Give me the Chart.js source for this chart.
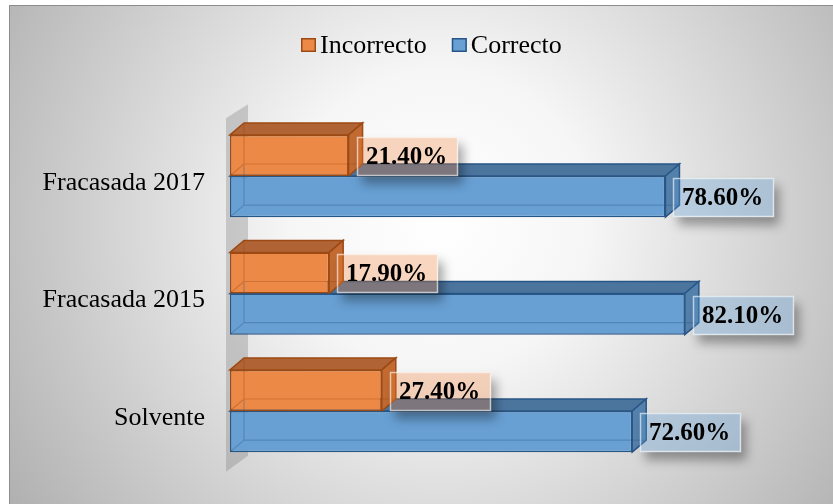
<!DOCTYPE html>
<html>
<head>
<meta charset="utf-8">
<script src="https://cdn.jsdelivr.net/npm/chart.js@4/dist/chart.umd.min.js"></script>
<style>
  html, body { margin: 0; padding: 0; background: #ffffff; }
  canvas { display: block; }
</style>
</head>
<body>
<canvas id="chart" width="833" height="504"></canvas>
<script>
// Categories (top to bottom) and the two series
const categories = ['Fracasada 2017', 'Fracasada 2015', 'Solvente'];
const seriesNames = ['Incorrecto', 'Correcto'];
const incorrecto = [21.4, 17.9, 27.4];
const correcto = [78.6, 82.1, 72.6];
const axisRange = [0, 100];

const FONT = "'Liberation Serif', 'Times New Roman', serif";
const DEPTH_X = 14;   // 3D depth offset of the boxes
const DEPTH_Y = -12;

const palette = [
  { front: 'rgb(237,137,70)', top: 'rgb(176,100,54)', side: 'rgb(194,106,50)',
    edge: 'rgb(156,74,20)', inner: 'rgba(150,70,20,0.35)', label: 'rgba(237,125,49,0.30)' },
  { front: 'rgb(104,160,212)', top: 'rgb(76,117,158)', side: 'rgb(84,128,172)',
    edge: 'rgb(40,86,134)', inner: 'rgba(40,86,134,0.35)', label: 'rgba(91,155,213,0.32)' }
];

// Frame rectangle of the chart (extends past the canvas on the right and bottom)
const frame = { x: 9.5, y: 5.5, w: 844, h: 520 };

const backgroundPlugin = {
  id: 'frameBackground',
  beforeDraw(chart) {
    const ctx = chart.ctx;
    ctx.save();
    ctx.fillStyle = '#ffffff';
    ctx.fillRect(0, 0, chart.width, chart.height);
    const g = ctx.createRadialGradient(440, 220, 0, 440, 220, 600);
    g.addColorStop(0, '#ffffff');
    g.addColorStop(0.25, '#f6f6f6');
    g.addColorStop(1, '#a0a0a0');
    ctx.fillStyle = g;
    ctx.fillRect(frame.x, frame.y, frame.w, frame.h);
    ctx.strokeStyle = '#8c8c8c';
    ctx.lineWidth = 1;
    ctx.strokeRect(frame.x, frame.y, frame.w, frame.h);
    ctx.restore();
  }
};

function poly(ctx, pts, fill, stroke, lw) {
  ctx.beginPath();
  ctx.moveTo(pts[0][0], pts[0][1]);
  for (let i = 1; i < pts.length; i++) ctx.lineTo(pts[i][0], pts[i][1]);
  ctx.closePath();
  if (fill) { ctx.fillStyle = fill; ctx.fill(); }
  if (stroke) { ctx.strokeStyle = stroke; ctx.lineWidth = lw || 1; ctx.stroke(); }
}

// Back wall, top faces and side faces of the 3D bars
const boxesPlugin = {
  id: 'boxes3d',
  beforeDatasetsDraw(chart) {
    const ctx = chart.ctx;
    const area = chart.chartArea;
    const x0 = chart.scales.x.getPixelForValue(0);
    ctx.save();
    poly(ctx, [[x0 - 4, area.top + 1], [x0 + 18, area.top - 13],
               [x0 + 18, area.bottom - 14], [x0 - 4, area.bottom + 2]],
         'rgba(120,120,120,0.32)');
    const order = [1, 0];
    for (const di of order) {
      const meta = chart.getDatasetMeta(di);
      const col = palette[di];
      meta.data.forEach(el => {
        const p = el.getProps(['x', 'y', 'base', 'height'], true);
        const top = p.y - p.height / 2, bot = p.y + p.height / 2;
        const l = p.base, r = p.x;
        // top face
        poly(ctx, [[l, top], [l + DEPTH_X, top + DEPTH_Y], [r + DEPTH_X, top + DEPTH_Y], [r, top]],
             col.top, col.edge, 1.5);
        // right side face
        poly(ctx, [[r, top], [r + DEPTH_X, top + DEPTH_Y], [r + DEPTH_X, bot + DEPTH_Y], [r, bot]],
             col.side, col.edge, 1.5);
      });
    }
    ctx.restore();
  },
  afterDatasetsDraw(chart) {
    const ctx = chart.ctx;
    ctx.save();
    // hidden back edges seen through the translucent front faces
    chart.data.datasets.forEach((ds, di) => {
      const col = palette[di];
      chart.getDatasetMeta(di).data.forEach(el => {
        const p = el.getProps(['x', 'y', 'base', 'height'], true);
        const top = p.y - p.height / 2, bot = p.y + p.height / 2;
        const l = p.base, r = p.x;
        ctx.strokeStyle = col.inner;
        ctx.lineWidth = 1.2;
        ctx.beginPath();
        ctx.moveTo(l + DEPTH_X, top + DEPTH_Y + 1);
        ctx.lineTo(l + DEPTH_X, bot + DEPTH_Y);
        ctx.lineTo(r + DEPTH_X - 1, bot + DEPTH_Y);
        ctx.moveTo(l + 1, bot - 1);
        ctx.lineTo(l + DEPTH_X, bot + DEPTH_Y);
        ctx.stroke();
      });
    });

    // value labels
    chart.data.datasets.forEach((ds, di) => {
      const col = palette[di];
      chart.getDatasetMeta(di).data.forEach((el, i) => {
        const p = el.getProps(['x', 'y', 'base', 'height'], true);
        const text = ds.data[i].toFixed(2) + '%';
        ctx.font = 'bold 25px ' + FONT;
        const tw = ctx.measureText(text).width;
        const bw = Math.round(tw + 20), bh = 39;
        const bx = Math.round(p.x + 8), by = Math.round(p.y - bh / 2 + 1);
        // soft drop shadow outside the box
        ctx.save();
        ctx.beginPath();
        ctx.rect(0, 0, chart.width, chart.height);
        ctx.rect(bx, by, bw, bh);
        ctx.clip('evenodd');
        ctx.shadowColor = 'rgba(0,0,0,0.35)';
        ctx.shadowBlur = 10;
        ctx.shadowOffsetX = 5 + 3000;
        ctx.shadowOffsetY = 8;
        ctx.fillStyle = '#000';
        ctx.fillRect(bx - 3000, by, bw, bh);
        ctx.restore();
        // translucent box
        ctx.fillStyle = col.label;
        ctx.fillRect(bx, by, bw, bh);
        ctx.strokeStyle = 'rgba(255,255,255,0.6)';
        ctx.lineWidth = 1.5;
        ctx.strokeRect(bx + 0.5, by + 0.5, bw - 1, bh - 1);
        ctx.fillStyle = '#000000';
        ctx.textBaseline = 'middle';
        ctx.textAlign = 'left';
        ctx.fillText(text, bx + 9, by + bh / 2 + 1);
      });
    });
    ctx.restore();
  }
};

// Legend drawn centred on the frame: small square swatch + label
const legendPlugin = {
  id: 'serifLegend',
  afterDraw(chart) {
    const ctx = chart.ctx;
    ctx.save();
    ctx.font = '26px ' + FONT;
    const sw = 15, gapText = 4, gapItem = 25;
    const items = chart.data.datasets.map((ds, di) => ({
      text: ds.label, col: palette[di], w: sw + gapText + ctx.measureText(ds.label).width
    }));
    const total = items.reduce((s, it) => s + it.w, 0) + gapItem * (items.length - 1);
    let x = Math.round(frame.x + frame.w / 2 - total / 2);
    const cy = 45;
    items.forEach(it => {
      ctx.fillStyle = it.col.front;
      ctx.fillRect(x, cy - 7, sw, sw - 1);
      ctx.strokeStyle = it.col.edge;
      ctx.lineWidth = 1.5;
      ctx.strokeRect(x + 0.75, cy - 6.25, sw - 1.5, sw - 2.5);
      ctx.fillStyle = '#000000';
      ctx.textBaseline = 'middle';
      ctx.textAlign = 'left';
      ctx.fillText(it.text, x + sw + gapText, cy + 1);
      x += it.w + gapItem;
    });
    ctx.restore();
  }
};

new Chart(document.getElementById('chart'), {
  type: 'bar',
  data: {
    labels: categories,
    datasets: [
      { label: seriesNames[0], data: incorrecto, backgroundColor: palette[0].front,
        borderColor: palette[0].edge, borderWidth: 1.5, borderSkipped: false,
        categoryPercentage: 0.70, barPercentage: 1.0 },
      { label: seriesNames[1], data: correcto, backgroundColor: palette[1].front,
        borderColor: palette[1].edge, borderWidth: 1.5, borderSkipped: false,
        categoryPercentage: 0.70, barPercentage: 1.0 }
    ]
  },
  options: {
    indexAxis: 'y',
    responsive: false,
    animation: false,
    devicePixelRatio: 1,
    layout: { padding: { left: 0, right: 49, top: 117.25, bottom: 34.25 } },
    plugins: { legend: { display: false }, tooltip: { enabled: false } },
    scales: {
      x: { display: false, min: axisRange[0], max: axisRange[1] },
      y: {
        afterFit(scale) {
          scale.width = 230;
          scale.paddingTop = 0;
          scale.paddingBottom = 0;
        },
        grid: { display: false, drawTicks: false },
        border: { display: false },
        ticks: { color: '#000000', padding: 25, labelOffset: 7,
                 font: { family: FONT, size: 26 } }
      }
    }
  },
  plugins: [backgroundPlugin, boxesPlugin, legendPlugin]
});
</script>
</body>
</html>
